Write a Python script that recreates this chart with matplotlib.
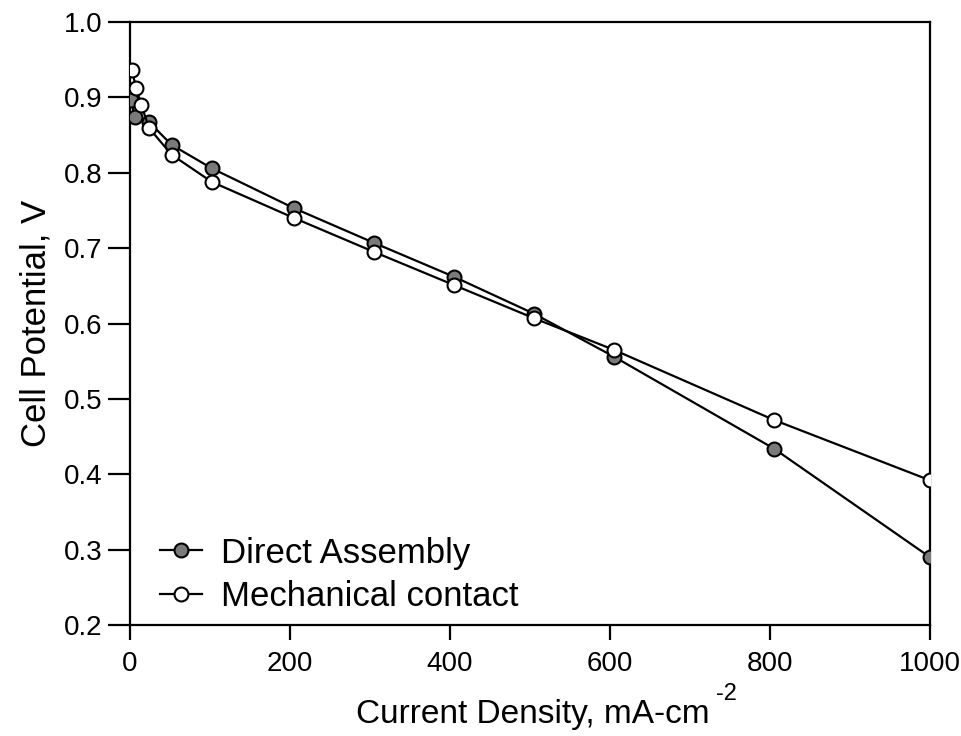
import matplotlib
matplotlib.use('Agg')
import matplotlib.pyplot as plt

plt.rcParams['font.family'] = ['Liberation Sans Narrow', 'Liberation Sans', 'DejaVu Sans']

# Direct Assembly (hatched grey markers)
direct_x = [1, 6, 24, 52, 102, 205, 305, 405, 505, 605, 805, 1000]
direct_y = [0.897, 0.874, 0.867, 0.837, 0.806, 0.753, 0.707, 0.662, 0.613, 0.556, 0.434, 0.290]

# Mechanical contact (open markers)
mech_x = [2, 8, 14, 24, 52, 102, 205, 305, 405, 505, 605, 805, 1000]
mech_y = [0.936, 0.912, 0.890, 0.859, 0.824, 0.788, 0.740, 0.695, 0.651, 0.607, 0.565, 0.472, 0.392]

xticks = [0, 200, 400, 600, 800, 1000]
yticks = [0.2, 0.3, 0.4, 0.5, 0.6, 0.7, 0.8, 0.9, 1.0]

fig = plt.figure(figsize=(9.61, 7.36), dpi=100)
ax = fig.add_axes([0.1353, 0.1508, 0.8324, 0.8193])

ax.plot(direct_x, direct_y, '-o', color='black', lw=1.6, markersize=10,
        markerfacecolor='#7a7a7a', markeredgecolor='black', markeredgewidth=1.5,
        label='Direct Assembly', zorder=3)
ax.plot(mech_x, mech_y, '-o', color='black', lw=1.6, markersize=10,
        markerfacecolor='white', markeredgecolor='black', markeredgewidth=1.5,
        label='Mechanical contact', zorder=4)

ax.set_xlim(0, 1000)
ax.set_ylim(0.2, 1.0)
ax.set_xticks(xticks)
ax.set_yticks(yticks)
ax.set_yticklabels(['%.1f' % v for v in yticks])

for s in ax.spines.values():
    s.set_linewidth(1.6)
ax.tick_params(axis='y', direction='out', length=16, width=1.6, labelsize=20, pad=4)
ax.tick_params(axis='x', direction='out', length=11, width=1.6, labelsize=20, pad=8)

# x label with a plain hyphen in the superscript, as in the original
fig.text(0.37, 0.018, 'Current Density, mA-cm', fontsize=24, ha='left', va='baseline')
fig.text(0.745, 0.049, '-2', fontsize=17, ha='left', va='baseline')
ax.set_ylabel('Cell Potential, V', fontsize=25, labelpad=8)

ax.legend(loc='lower left', bbox_to_anchor=(0.0375, 0.02), frameon=False, fontsize=25,
          handlelength=1.2, handletextpad=0.55, labelspacing=0.3,
          borderpad=0, borderaxespad=0)

fig.savefig('out.png', dpi=100)
